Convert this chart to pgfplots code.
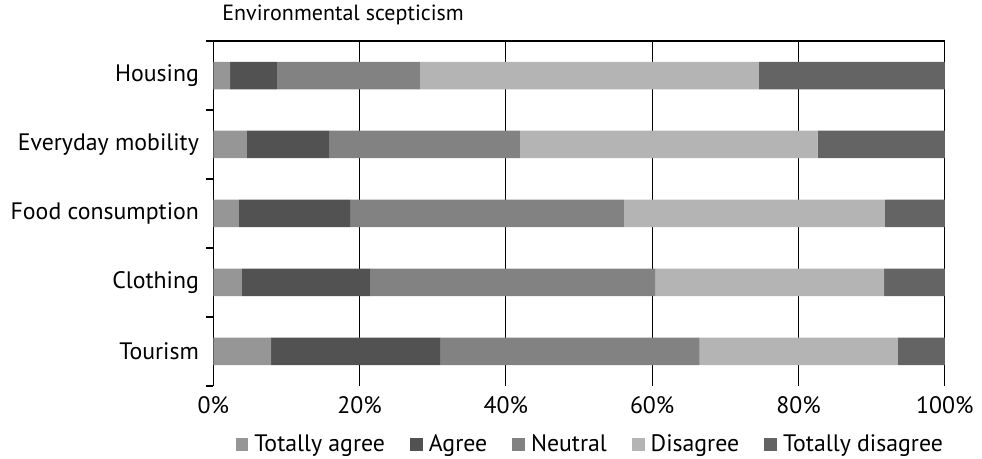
\documentclass[border=0pt]{standalone}
\usepackage{fontspec}
\setmainfont{PT Sans}
\usepackage{pgfplots}
\pgfplotsset{compat=1.18}
\definecolor{ctagree}{HTML}{969696}
\definecolor{cagree}{HTML}{525252}
\definecolor{cneutral}{HTML}{828282}
\definecolor{cdisagree}{HTML}{B4B4B4}
\definecolor{ctdisagree}{HTML}{646464}
\begin{document}
\begin{tikzpicture}[font=\fontsize{11.9}{14}\selectfont]
\useasboundingbox (-106.65pt,-36.5pt) rectangle (384.35pt,193pt);
\begin{axis}[
  at={(0,0)}, anchor=south west,
  scale only axis,
  width=365.75pt, height=172.5pt,
  clip=false,
  xbar stacked,
  bar width=13.75pt,
  xmin=0, xmax=100,
  ymin=0.5, ymax=5.5,
  xtick={0,20,40,60,80,100},
  xticklabels={0\%,20\%,40\%,60\%,80\%,100\%},
  ytick={1,2,3,4,5},
  yticklabels={Tourism,Clothing,Food consumption,Everyday mobility,Housing},
  minor ytick={0.5,1.5,2.5,3.5,4.5,5.5},
  ytick pos=left,
  xtick pos=bottom,
  major tick length=0pt,
  minor tick length=3.5pt,
  tick align=outside,
  tick style={black, line width=0.6pt},
  xmajorgrids,
  major grid style={black, line width=0.6pt},
  separate axis lines,
  x axis line style={draw=none},
  y axis line style={black, line width=0.6pt},
  yticklabel style={inner sep=0pt, xshift=-7pt},
  xticklabel style={inner sep=0pt, yshift=-5pt},
  legend style={at={(0.516,-0.17)}, anchor=center, draw=none, fill=none,
    legend columns=5,
    /tikz/every odd column/.append style={column sep=1.5pt},
    /tikz/every even column/.append style={column sep=11pt},
    nodes={inner sep=1.5pt}},
  legend image code/.code={\fill[#1] (0pt,-3.2pt) rectangle (6.4pt,3.2pt);},
]
\addplot[fill=ctagree, draw=none] coordinates {(7.9,1) (3.9,2) (3.5,3) (4.6,4) (2.3,5)};
\addplot[fill=cagree, draw=none] coordinates {(23.1,1) (17.6,2) (15.2,3) (11.3,4) (6.4,5)};
\addplot[fill=cneutral, draw=none] coordinates {(35.5,1) (38.9,2) (37.5,3) (26.0,4) (19.6,5)};
\addplot[fill=cdisagree, draw=none] coordinates {(27.1,1) (31.3,2) (35.6,3) (40.7,4) (46.3,5)};
\addplot[fill=ctdisagree, draw=none] coordinates {(6.4,1) (8.3,2) (8.2,3) (17.4,4) (25.4,5)};
\legend{Totally agree, Agree, Neutral, Disagree, Totally disagree}
\draw[black, line width=0.6pt] (rel axis cs:0,1) -- (rel axis cs:1,1);
\node[anchor=west, inner sep=0pt, font=\fontsize{11}{13}\selectfont] at ([xshift=4.35pt, yshift=13pt]rel axis cs:0,1) {Environmental scepticism};
\end{axis}
\end{tikzpicture}
\end{document}
